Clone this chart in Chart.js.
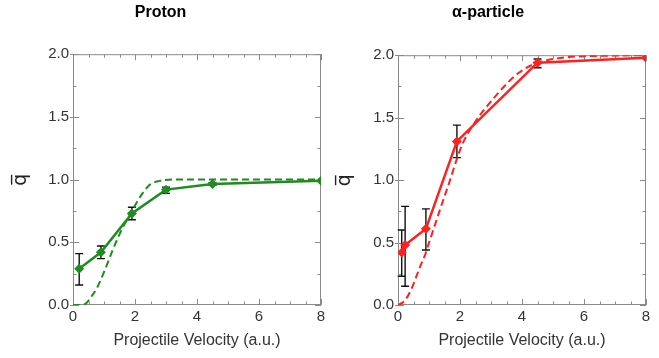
<!DOCTYPE html>
<html>
<head>
<meta charset="utf-8">
<script src="https://cdn.jsdelivr.net/npm/chart.js@4.4.1/dist/chart.umd.min.js"></script>
<style>
    html, body { margin: 0; padding: 0; background: #fff; }
    #wrap { display: flex; width: 659px; height: 358px; }
    .box { position: relative; height: 358px; }
    #boxProton { width: 330px; }
    #boxAlpha { width: 329px; }
</style>
</head>
<body>
<div id="wrap">
    <div class="box" id="boxProton"><canvas id="chartProton"></canvas></div>
    <div class="box" id="boxAlpha"><canvas id="chartAlpha"></canvas></div>
</div>
<script>
// measured points (projectile velocity, mean charge) + error limits
const protonV = [0.2, 0.9, 1.9, 3.0, 4.5, 8.0];
const protonQ = [0.29, 0.42, 0.73, 0.92, 0.965, 0.99];
const protonErrLo = [0.16, 0.37, 0.68, 0.89, 0.955, null];
const protonErrHi = [0.41, 0.47, 0.78, 0.94, 0.975, null];

// dashed reference curve (proton)
const protonCurveV = [0, 0.3, 0.45, 0.6, 0.76, 1.03, 1.3, 1.57, 1.84, 2.16, 2.48, 2.8, 3.2, 4.0, 6.0, 8.0];
const protonCurveQ = [0, 0, 0.02, 0.07, 0.13, 0.28, 0.45, 0.6, 0.72, 0.86, 0.96, 0.99, 1.0, 1.0, 1.0, 1.0];

const alphaV = [0.12, 0.23, 0.9, 1.9, 4.5, 8.0];
const alphaQ = [0.42, 0.48, 0.61, 1.31, 1.94, 1.98];
const alphaErrLo = [0.23, 0.15, 0.44, 1.18, 1.90, null];
const alphaErrHi = [0.60, 0.79, 0.77, 1.44, 1.97, null];

// dashed reference curve (alpha)
const alphaCurveV = [0, 0.2, 0.4, 0.55, 0.7, 0.87, 1.03, 1.35, 1.68, 1.9, 2.1, 2.5, 2.9, 3.5, 3.9, 4.4, 4.8, 5.5, 6.5, 8.0];
const alphaCurveQ = [0, 0.03, 0.11, 0.2, 0.3, 0.4, 0.52, 0.76, 1.0, 1.17, 1.3, 1.47, 1.6, 1.77, 1.86, 1.93, 1.96, 1.985, 1.995, 2.0];

const xTicks = [0, 2, 4, 6, 8];
const yTicks = [0, 0.5, 1.0, 1.5, 2.0];

const FONT = "'Liberation Sans', Arial, Helvetica, sans-serif";
const GREEN = '#1f8c1f';
const RED = '#ff2020';

const toXY = (xs, ys) => xs.map((v, i) => ({ x: v, y: ys[i] }));

// frame + inward tick marks on all four sides
const frameTicks = {
    id: 'frameTicks',
    beforeDatasetsDraw(chart) {
        const { ctx, chartArea: a, scales: { x, y } } = chart;
        ctx.save();
        ctx.strokeStyle = '#8a8a8a';
        ctx.lineWidth = 1;
        ctx.strokeRect(a.left + 0.5, a.top + 0.5, a.right - a.left - 1, a.bottom - a.top - 1);
        ctx.beginPath();
        for (let v = 0; v <= 8.001; v += 0.5) {
            const px = Math.round(x.getPixelForValue(v)) + 0.5;
            const len = (Math.abs(v % 2) < 1e-6) ? 6 : 3.5;
            ctx.moveTo(px, a.bottom); ctx.lineTo(px, a.bottom - len);
            ctx.moveTo(px, a.top); ctx.lineTo(px, a.top + len);
        }
        for (let v = 0; v <= 2.001; v += 0.25) {
            const py = Math.round(y.getPixelForValue(v)) + 0.5;
            const major = Math.abs(v % 0.5) < 1e-6;
            const len = major ? 6 : 3.5;
            ctx.moveTo(a.left - (major ? 3 : 0), py); ctx.lineTo(a.left + len, py);
            ctx.moveTo(a.right, py); ctx.lineTo(a.right - len, py);
        }
        ctx.stroke();
        ctx.restore();
    }
};

// vertical error bars with caps, drawn under the markers
const errorBars = {
    id: 'errorBars',
    beforeDatasetsDraw(chart, args, opts) {
        if (!opts || !opts.xs) return;
        const { ctx, scales: { x, y } } = chart;
        ctx.save();
        ctx.strokeStyle = '#111';
        ctx.lineWidth = 1.4;
        ctx.beginPath();
        opts.xs.forEach((v, i) => {
            if (opts.lo[i] == null) return;
            const px = x.getPixelForValue(v);
            const p1 = y.getPixelForValue(opts.lo[i]);
            const p2 = y.getPixelForValue(opts.hi[i]);
            ctx.moveTo(px, p1); ctx.lineTo(px, p2);
            ctx.moveTo(px - 4, p1); ctx.lineTo(px + 4, p1);
            ctx.moveTo(px - 4, p2); ctx.lineTo(px + 4, p2);
        });
        ctx.stroke();
        ctx.restore();
    }
};

function makeChart(canvasId, cfg) {
    return new Chart(document.getElementById(canvasId), {
        type: 'line',
        data: {
            datasets: [
                {
                    data: toXY(cfg.curveV, cfg.curveQ),
                    borderColor: cfg.color,
                    borderWidth: 2,
                    borderDash: [7, 4],
                    pointRadius: 0,
                    cubicInterpolationMode: 'monotone',
                    fill: false
                },
                {
                    data: toXY(cfg.v, cfg.q),
                    borderColor: cfg.color,
                    backgroundColor: cfg.color,
                    borderWidth: 2.5,
                    pointStyle: 'rectRot',
                    pointRadius: 5,
                    pointBorderWidth: 0,
                    fill: false
                }
            ]
        },
        options: {
            responsive: true,
            maintainAspectRatio: false,
            animation: false,
            layout: { padding: { top: 0, right: cfg.padRight, bottom: 0, left: 0 } },
            plugins: {
                legend: { display: false },
                tooltip: { enabled: false },
                title: {
                    display: true,
                    text: cfg.title,
                    color: '#000',
                    font: { family: FONT, size: 16, weight: 'bold' },
                    padding: { top: 3, bottom: cfg.titleGap }
                },
                errorBars: { xs: cfg.v, lo: cfg.lo, hi: cfg.hi }
            },
            scales: {
                x: {
                    type: 'linear',
                    min: 0, max: 8,
                    grid: { display: false, drawTicks: false },
                    border: { display: false },
                    afterBuildTicks: s => { s.ticks = xTicks.map(v => ({ value: v })); },
                    afterFit: s => { s.height = 53; },
                    ticks: {
                        color: '#333',
                        padding: 3,
                        maxRotation: 0,
                        font: { family: FONT, size: 15 },
                        callback: v => String(v)
                    },
                    title: {
                        display: true,
                        text: 'Projectile Velocity (a.u.)',
                        color: '#333',
                        font: { family: FONT, size: 16 },
                        padding: { top: 0, bottom: 8 }
                    }
                },
                y: {
                    type: 'linear',
                    min: 0, max: 2,
                    grid: { display: false, drawTicks: false },
                    border: { display: false },
                    afterBuildTicks: s => { s.ticks = yTicks.map(v => ({ value: v })); },
                    afterFit: s => { s.width = cfg.yWidth; },
                    ticks: {
                        color: '#333',
                        padding: 4,
                        font: { family: FONT, size: 15 },
                        callback: v => Number(v).toFixed(1)
                    },
                    title: {
                        display: true,
                        text: 'q\u0305',
                        color: '#222',
                        font: { family: "'DejaVu Sans', sans-serif", size: 19 },
                        padding: { top: cfg.yTitlePad, bottom: 0 }
                    }
                }
            }
        },
        plugins: [frameTicks, errorBars]
    });
}

makeChart('chartProton', {
    title: 'Proton', color: GREEN,
    v: protonV, q: protonQ, lo: protonErrLo, hi: protonErrHi,
    curveV: protonCurveV, curveQ: protonCurveQ,
    yWidth: 73, padRight: 9, titleGap: 32, yTitlePad: 10
});

makeChart('chartAlpha', {
    title: 'α-particle', color: RED,
    v: alphaV, q: alphaQ, lo: alphaErrLo, hi: alphaErrHi,
    curveV: alphaCurveV, curveQ: alphaCurveQ,
    yWidth: 68, padRight: 13, titleGap: 33, yTitlePad: 4
});
</script>
</body>
</html>
